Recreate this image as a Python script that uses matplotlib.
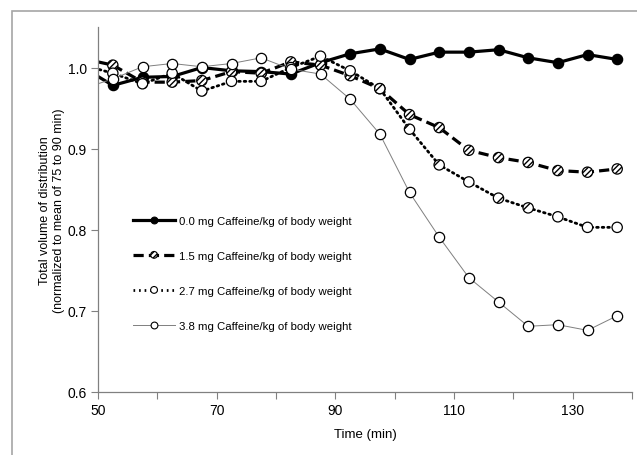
import matplotlib.pyplot as plt
from matplotlib.lines import Line2D
from matplotlib.patches import Rectangle

plt.rcParams['font.family'] = ['Liberation Sans', 'DejaVu Sans']
plt.rcParams['hatch.linewidth'] = 1.0

# Time points (min); the first one lies left of the axis and is clipped
time = [47.5, 52.5, 57.5, 62.5, 67.5, 72.5, 77.5, 82.5, 87.5, 92.5,
        97.5, 102.5, 107.5, 112.5, 117.5, 122.5, 127.5, 132.5, 137.5]

dose_00 = [1.000, 0.978, 0.988, 0.989, 1.000, 0.996, 0.995, 0.992, 1.006, 1.017,
           1.023, 1.010, 1.019, 1.019, 1.022, 1.012, 1.006, 1.016, 1.010]
dose_15 = [1.011, 1.003, 0.982, 0.982, 0.984, 0.995, 0.993, 1.007, 1.003, 0.990,
           0.974, 0.942, 0.926, 0.898, 0.889, 0.883, 0.873, 0.871, 0.875]
dose_27 = [1.003, 0.993, 0.980, 0.993, 0.971, 0.983, 0.983, 1.000, 1.014, 0.996,
           0.974, 0.924, 0.880, 0.859, 0.839, 0.827, 0.816, 0.803, 0.803]
dose_38 = [0.974, 0.986, 1.001, 1.005, 1.001, 1.005, 1.012, 0.998, 0.992, 0.961,
           0.918, 0.846, 0.791, 0.741, 0.711, 0.681, 0.683, 0.676, 0.694]

labels = ['0.0 mg Caffeine/kg of body weight',
          '1.5 mg Caffeine/kg of body weight',
          '2.7 mg Caffeine/kg of body weight',
          '3.8 mg Caffeine/kg of body weight']

fig = plt.figure(figsize=(6.37, 4.56), dpi=100)
ax = fig.add_axes([98 / 637, 1 - 393 / 456, 534 / 637, 365 / 456])

# outer frame of the picture
fig.patches.append(Rectangle((12 / 637, -0.1), 1.2, 1.1 - 12 / 456,
                             transform=fig.transFigure, fill=False,
                             edgecolor='#a6a6a6', linewidth=1.2))

# series: line style, line width, line colour, marker face, hatch
styles = [
    ('-', 2.3, 'black', 'black', None),
    ((0, (3.2, 1.6)), 2.3, 'black', 'white', '//////'),
    ((0, (0.6, 1.4)), 2.0, 'black', 'white', '/'),
    ('-', 0.7, '#7f7f7f', 'white', None),
]

handles = []
for ys, lab, (ls, lw, lc, fc, hatch) in zip([dose_00, dose_15, dose_27, dose_38],
                                            labels, styles):
    line, = ax.plot(time, ys, linestyle=ls, linewidth=lw, color=lc,
                    dash_capstyle='round' if lw == 2.0 else 'butt')
    sc = ax.scatter(time, ys, s=55, facecolor=fc, edgecolor='black',
                    linewidth=0.9, hatch=hatch, zorder=3)
    handles.append((Line2D([], [], linestyle=ls, linewidth=lw, color=lc),
                    ax.scatter([], [], s=24, facecolor=fc, edgecolor='black',
                               linewidth=0.8, hatch=hatch)))

ax.set_xlim(50, 140)
ax.set_ylim(0.6, 1.05)
ax.set_xticks([50, 60, 70, 80, 90, 100, 110, 120, 130, 140])
ax.set_xticklabels(['50', '', '70', '', '90', '', '110', '', '130', ''])
ax.set_yticks([0.6, 0.7, 0.8, 0.9, 1.0])
ax.set_yticklabels(['0.6', '0.7', '0.8', '0.9', '1.0'])
ax.tick_params(direction='out', length=5, width=0.8, color='#808080',
               labelsize=10, pad=3)

for side in ['top', 'right']:
    ax.spines[side].set_visible(False)
for side in ['left', 'bottom']:
    ax.spines[side].set_color('#808080')
    ax.spines[side].set_linewidth(0.9)

ax.set_xlabel('Time (min)', fontsize=9.5, labelpad=8)
ax.set_ylabel('Total volume of distribution\n(normalized to mean of 75 to 90 min)',
              fontsize=9, labelpad=2)

ax.legend(handles, labels, loc='center left', bbox_to_anchor=(0.057, 0.325),
          frameon=False, fontsize=8.2, handlelength=3.7, handletextpad=0.3,
          labelspacing=2.2, borderaxespad=0, scatterpoints=1,
          scatteryoffsets=[0.5])

fig.savefig('out.png', dpi=100)
